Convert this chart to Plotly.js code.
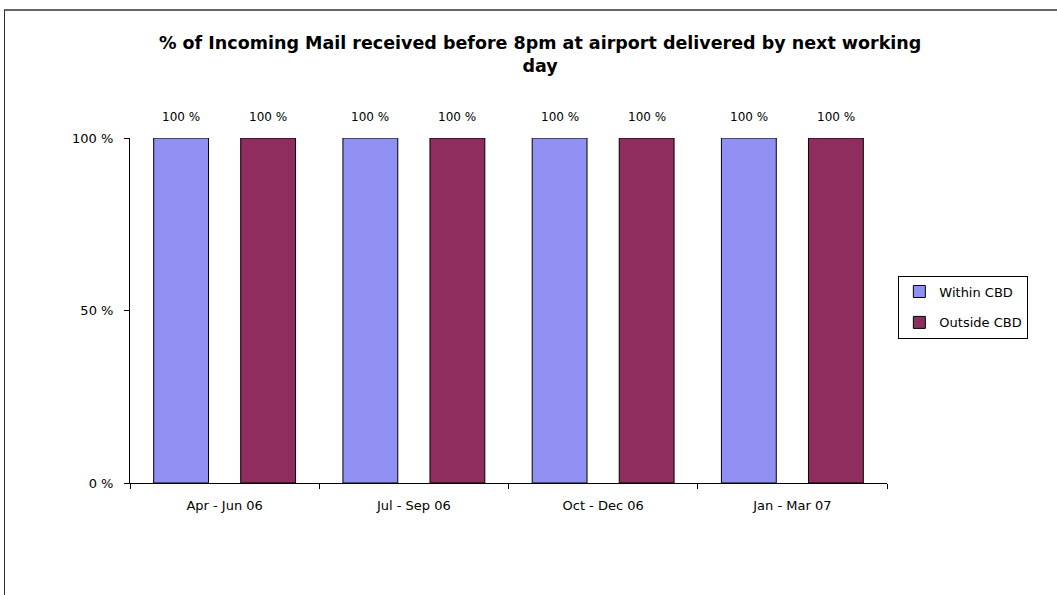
<!DOCTYPE html>
<html>
<head>
<meta charset="utf-8">
<script src="https://cdn.plot.ly/plotly-3.0.1.min.js"></script>
<style>
html,body{margin:0;padding:0;background:#fff;}
#frame{position:absolute;left:4px;top:9px;width:1100px;height:700px;border-left:1px solid #333;border-top:2px solid #666;}
#chart{position:absolute;left:0;top:0;width:1057px;height:595px;}
</style>
</head>
<body>
<div id="frame"></div>
<div id="chart"></div>
<script>
const categories = ["Apr - Jun 06", "Jul - Sep 06", "Oct - Dec 06", "Jan - Mar 07"];
const withinCBD = [1.00, 1.00, 1.00, 1.00];
const outsideCBD = [1.00, 1.00, 1.00, 1.00];
const seriesNames = ["Within CBD", "Outside CBD"];
const yTickVals = [0, 0.5, 1];
const yTickText = ["0 %", "50 %", "100 %"];

const fontFam = "DejaVu Sans, Arial, sans-serif";
const pct = v => Math.round(v * 100) + " %";

const traces = [
  {type: "bar", name: seriesNames[0], x: categories, y: withinCBD, legendgroup: "a",
   marker: {color: "#9090F2", line: {color: "#000", width: 1}}},
  {type: "bar", name: seriesNames[1], x: categories, y: outsideCBD, legendgroup: "b",
   marker: {color: "#8E2D5E", line: {color: "#000", width: 1}}}
];

const annotations = [];
[withinCBD, outsideCBD].forEach((arr, si) => {
  arr.forEach((v, i) => {
    annotations.push({x: categories[i], y: v, xref: "x", yref: "y",
      text: pct(v), showarrow: false, yanchor: "bottom", yshift: 12,
      xshift: si === 0 ? -43.5 : 43.5,
      font: {family: fontFam, size: 12, color: "#000"}});
  });
});

const layout = {
  width: 1057, height: 595,
  paper_bgcolor: "rgba(0,0,0,0)", plot_bgcolor: "rgba(0,0,0,0)",
  margin: {l: 130, r: 170, t: 138, b: 112},
  title: {text: "<b>% of Incoming Mail received before 8pm at airport delivered by next working<br>day</b>",
    font: {family: fontFam, size: 17.5, color: "#000"},
    x: 0.511, xanchor: "center", y: 0.918, yanchor: "top", yref: "container"},
  barmode: "group", bargap: 0.08, bargroupgap: 0.37,
  showlegend: true,
  legend: {x: 1.015, xanchor: "left", y: 0.51, yanchor: "middle", traceorder: "grouped",
    bordercolor: "#000", borderwidth: 1, bgcolor: "#fff",
    font: {family: fontFam, size: 13, color: "#000"}, tracegroupgap: 11},
  xaxis: {type: "category", showline: true, linecolor: "#000", linewidth: 1,
    ticks: "outside", tickson: "boundaries", ticklen: 5, tickcolor: "#000",
    ticklabelstandoff: 10,
    showgrid: false, tickfont: {family: fontFam, size: 13, color: "#000"}},
  yaxis: {range: [0, 1], showline: true, linecolor: "#000", linewidth: 1,
    ticks: "outside", ticklen: 5, tickcolor: "#000", showgrid: false, zeroline: false,
    ticklabelstandoff: 8,
    tickvals: yTickVals, ticktext: yTickText,
    tickfont: {family: fontFam, size: 13, color: "#000"}},
  annotations: annotations
};

Plotly.newPlot("chart", traces, layout, {displayModeBar: false, responsive: false});
</script>
</body>
</html>
